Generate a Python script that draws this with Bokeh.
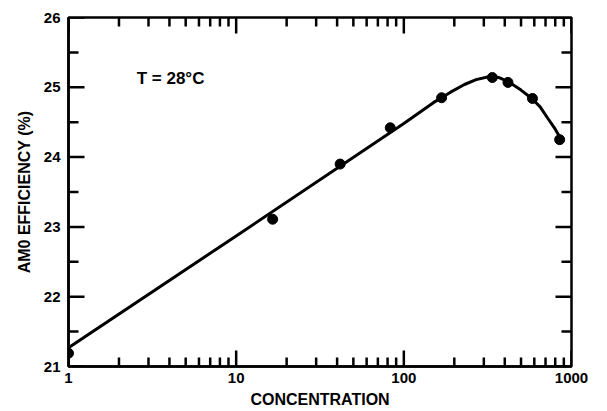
from bokeh.plotting import figure
from bokeh.models import FixedTicker, Range1d, PrintfTickFormatter
from bokeh.core.properties import value
from bokeh.embed import file_html
from bokeh.resources import INLINE

# measured points
conc = [1, 16.5, 41.7, 83, 168, 337, 418, 585, 850]
eff = [21.19, 23.11, 23.90, 24.42, 24.85, 25.14, 25.07, 24.84, 24.25]

# fitted curve
curve_x = [1, 10, 100, 150, 190, 230, 270, 320, 370, 420, 500, 580, 650, 720, 800, 870]
curve_y = [21.27, 22.87, 24.48, 24.78, 24.93, 25.04, 25.11, 25.15, 25.14, 25.08,
           24.96, 24.84, 24.72, 24.56, 24.40, 24.25]

x_ticks = [1, 10, 100, 1000]
x_minor = [m * d for d in (1, 10, 100) for m in range(2, 10)]
y_ticks = [21, 22, 23, 24, 25, 26]
y_minor = [21.5, 22.5, 23.5, 24.5, 25.5]

X_MIN, X_MAX = 1, 1000
Y_MIN, Y_MAX = 21, 26

FONT = "Liberation Sans"

p = figure(width=595, height=410, x_axis_type="log",
           x_range=Range1d(X_MIN, X_MAX), y_range=Range1d(Y_MIN, Y_MAX),
           output_backend="svg", toolbar_location=None,
           min_border_left=68, min_border_top=17, min_border_right=24, min_border_bottom=40)
p.grid.visible = False
p.outline_line_color = "black"
p.outline_line_width = 2.5
p.background_fill_color = "white"
p.border_fill_color = "white"

# inward tick marks; lengths as fractions of the frame (~503 x 347 px, 3 decades x 5 units)
Y_SPAN = Y_MAX - Y_MIN
FAC_MAJOR = 10 ** (3 * 16 / 503)
FAC_MINOR = 10 ** (3 * 10 / 503)
LEN_MAJOR = Y_SPAN * 16 / 347
LEN_MINOR = Y_SPAN * 9 / 347

def tick_segments_y(vals, fac):
    x0 = [X_MIN] * len(vals) + [X_MAX] * len(vals)
    x1 = [X_MIN * fac] * len(vals) + [X_MAX / fac] * len(vals)
    ys = list(vals) * 2
    p.segment(x0=x0, y0=ys, x1=x1, y1=ys, line_color="black", line_width=2.5)

def tick_segments_x(vals, length):
    xs = list(vals) * 2
    y0 = [Y_MIN] * len(vals) + [Y_MAX] * len(vals)
    y1 = [Y_MIN + length] * len(vals) + [Y_MAX - length] * len(vals)
    p.segment(x0=xs, y0=y0, x1=xs, y1=y1, line_color="black", line_width=2.5)

tick_segments_y(y_ticks, FAC_MAJOR)
tick_segments_y(y_minor, FAC_MINOR)
tick_segments_x(x_ticks, LEN_MAJOR)
tick_segments_x(x_minor, LEN_MINOR)

p.line(curve_x, curve_y, line_color="black", line_width=3)
p.scatter(conc, eff, size=10, color="black")

p.text(x=[2.55], y=[25.12], text=["T = 28°C"], text_font=value(FONT),
       text_font_style="bold", text_font_size="17px", text_baseline="middle",
       text_align="left", text_color="black")

def style(ax):
    ax.axis_line_width = 2.5
    ax.axis_line_color = "black"
    ax.major_tick_in = 0
    ax.major_tick_out = 0
    ax.minor_tick_in = 0
    ax.minor_tick_out = 0
    ax.major_tick_line_color = None
    ax.minor_tick_line_color = None
    ax.major_label_text_font = FONT
    ax.major_label_text_font_style = "bold"
    ax.major_label_text_font_size = "15px"
    ax.major_label_text_color = "black"
    ax.axis_label_text_font = FONT
    ax.axis_label_text_font_style = "bold"
    ax.axis_label_text_font_size = "16px"
    ax.axis_label_text_color = "black"

xa = p.xaxis[0]
xa.ticker = FixedTicker(ticks=x_ticks)
xa.formatter = PrintfTickFormatter(format="%d")
xa.axis_label = "CONCENTRATION"
style(xa)
xa.major_label_standoff = 6
xa.axis_label_standoff = 5

ya = p.yaxis[0]
ya.ticker = FixedTicker(ticks=y_ticks)
ya.axis_label = "AM0 EFFICIENCY (%)"
style(ya)
ya.major_label_standoff = 8
ya.axis_label_standoff = 8

open("out.html", "w").write(file_html(p, INLINE))
